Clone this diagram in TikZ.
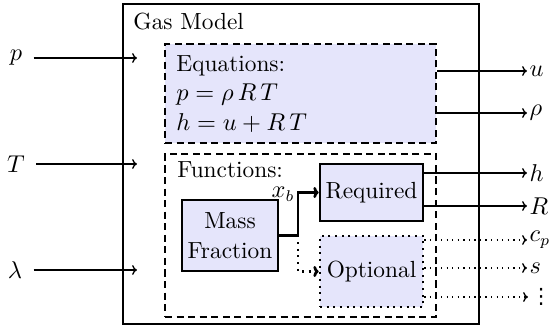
\documentclass[tikz,border=0pt]{standalone}
\usepackage{fontspec}
\newfontfamily\dotsfont{DejaVu Sans}
\usetikzlibrary{arrows.meta,fit}
\definecolor{boxfill}{RGB}{229,229,251}
\begin{document}
\begin{tikzpicture}[x=0.45pt,y=-0.45pt,
  font=\fontsize{10.5pt}{13.5pt}\selectfont,
  frame/.style={draw, line width=0.75pt, inner sep=0pt},
  groupbox/.style={draw, line width=1.2pt, inner sep=0pt,
    dash pattern=on 3.2pt off 2pt},
  blockbox/.style={draw, fill=boxfill, line width=1.2pt, inner sep=0pt,
    align=center, minimum width=46.35pt},
  optbox/.style={blockbox, dash pattern=on 0.9pt off 2.1pt},
  txt/.style={inner sep=0pt, anchor=base west},
  inlab/.style={inner ysep=0pt, inner xsep=5pt},
  outlab/.style={inner ysep=0pt, inner xsep=1pt, anchor=west},
  sig/.style={-{To[length=2.2pt,width=4.4pt]}, line width=0.6pt},
  optsig/.style={sig, dash pattern=on 0.6pt off 1.9pt},
  flow/.style={-{To[length=2.4pt,width=5pt]}, line width=1.2pt},
  optflow/.style={flow, dash pattern=on 0.9pt off 2.1pt}
]
\useasboundingbox (0,0) rectangle (554,326);

% corner points of the enclosing frames
\coordinate (gmNW) at (123,4);    \coordinate (gmSE) at (479,324);
\coordinate (eqNW) at (165,44);   \coordinate (eqSE) at (436,143);
\coordinate (fnNW) at (165,154);  \coordinate (fnSE) at (436,317);

% frames
\node[frame, fit=(gmNW)(gmSE)] (gas) {};
\node[groupbox, fill=boxfill, fit=(eqNW)(eqSE)] (eq) {};
\node[groupbox, fit=(fnNW)(fnSE)] (fn) {};

% titles and equations
\node[txt] (gastitle) at (133,30) {Gas Model};
\node[txt] (eqhead) at (176,72) {Equations:};
\node[txt] (eqone) at (176,101) {$p = \rho\,R\,T$};
\node[txt] (eqtwo) at (176,131) {$h = u + R\,T$};
\node[txt] (fnhead) at (177,178) {Functions:};

% function blocks
\node[blockbox, minimum width=43.2pt, minimum height=31.95pt] (mf) at (230,235.5) {Mass\\Fraction};
\node[blockbox, minimum height=25.65pt] (req) at (371.5,192.5) {Required};
\node[optbox, minimum height=31.95pt] (opt) at (371.5,271.5) {Optional};

% inputs
\node[inlab] (p) at (16,58) {$p$};
\node[inlab] (T) at (16,164) {$T$};
\node[inlab] (lam) at (15,270) {$\lambda$};
\coordinate (pin) at (137,58);
\coordinate (Tin) at (137,164);
\coordinate (lamin) at (137,270);
\draw[sig] (p.east) -- (pin);
\draw[sig] (T.east) -- (Tin);
\draw[sig] (lam.east) -- (lamin);

% outputs
\node[outlab] (u) at (527,71) {$u$};
\node[outlab] (rho) at (527,113) {$\rho$};
\node[outlab] (h) at (527,173) {$h$};
\node[outlab] (R) at (527,206) {$R$};
\node[outlab] (cp) at (527,240) {$c_p$};
\node[outlab] (s) at (527,268) {$s$};
\node[outlab, font=\dotsfont\fontsize{9.5pt}{10pt}\selectfont] (more) at (528,297) {⋮};
\draw[sig] (eq.east |- u) -- (u.west);
\draw[sig] (eq.east |- rho) -- (rho.west);
\draw[sig] (req.east |- h) -- (h.west);
\draw[sig] (req.east |- R) -- (R.west);
\draw[optsig] (opt.east |- cp) -- (cp.west);
\draw[optsig] (opt.east |- s) -- (s.west);
\draw[optsig] (opt.east |- more) -- (more.west);

% mass fraction feeds the property functions
\coordinate (split) at (298,235.5);
\draw[flow] (mf.east) -- (split) |- (req.west);
\draw[optflow] (split) |- (opt.west);
\node[inner sep=0.5pt, anchor=base east] (xb) at (296,198) {$x_b$};
\end{tikzpicture}
\end{document}
